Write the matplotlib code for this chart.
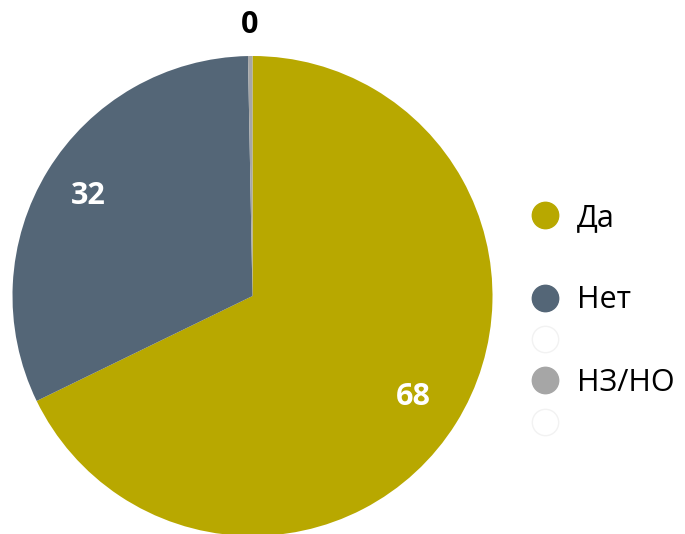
import matplotlib.pyplot as plt
from matplotlib.lines import Line2D
import numpy as np

plt.rcParams['font.family'] = ['Open Sans', 'DejaVu Sans']

labels = ['Да', 'Нет', 'НЗ/НО']
values = [68, 32, 0.3]
shown = ['68', '32', '0']
colors = ['#B8A800', '#546677', '#A6A6A6']
label_colors = ['white', 'white', 'black']
label_dist = [0.79, 0.80, 1.13]

fig = plt.figure(figsize=(6.85, 5.34), dpi=100)
ax = fig.add_axes([12.5 / 685, -2 / 534, 480 / 685, 480 / 534])
wedges, _ = ax.pie(values, colors=colors, startangle=90, counterclock=False,
                   wedgeprops=dict(linewidth=0))
ax.set_xlim(-1, 1)
ax.set_ylim(-1, 1)
ax.set_aspect('equal')

for w, txt, c, d in zip(wedges, shown, label_colors, label_dist):
    ang = np.deg2rad((w.theta1 + w.theta2) / 2)
    ax.text(d * np.cos(ang), d * np.sin(ang), txt, ha='center', va='center',
            fontsize=22, fontweight='bold', color=c, clip_on=False)

ms = 19
handles = [
    Line2D([], [], marker='o', linestyle='', markersize=ms, color=colors[0]),
    Line2D([], [], marker='', linestyle=''),
    Line2D([], [], marker='o', linestyle='', markersize=ms, color=colors[1]),
    Line2D([], [], marker='o', linestyle='', markersize=ms, markerfacecolor='white',
           markeredgecolor='#F2F2F2', markeredgewidth=1),
    Line2D([], [], marker='o', linestyle='', markersize=ms, color=colors[2]),
    Line2D([], [], marker='o', linestyle='', markersize=ms, markerfacecolor='white',
           markeredgecolor='#F2F2F2', markeredgewidth=1),
]
names = ['Да', ' ', 'Нет', ' ', 'НЗ/НО', ' ']
fig.legend(handles, names, loc='center left', bbox_to_anchor=(514 / 685, 1 - 321 / 534),
           frameon=False, fontsize=22, labelspacing=0.37, handlelength=1.0,
           handletextpad=0.55, borderpad=0)

fig.savefig('out.png', dpi=100)
